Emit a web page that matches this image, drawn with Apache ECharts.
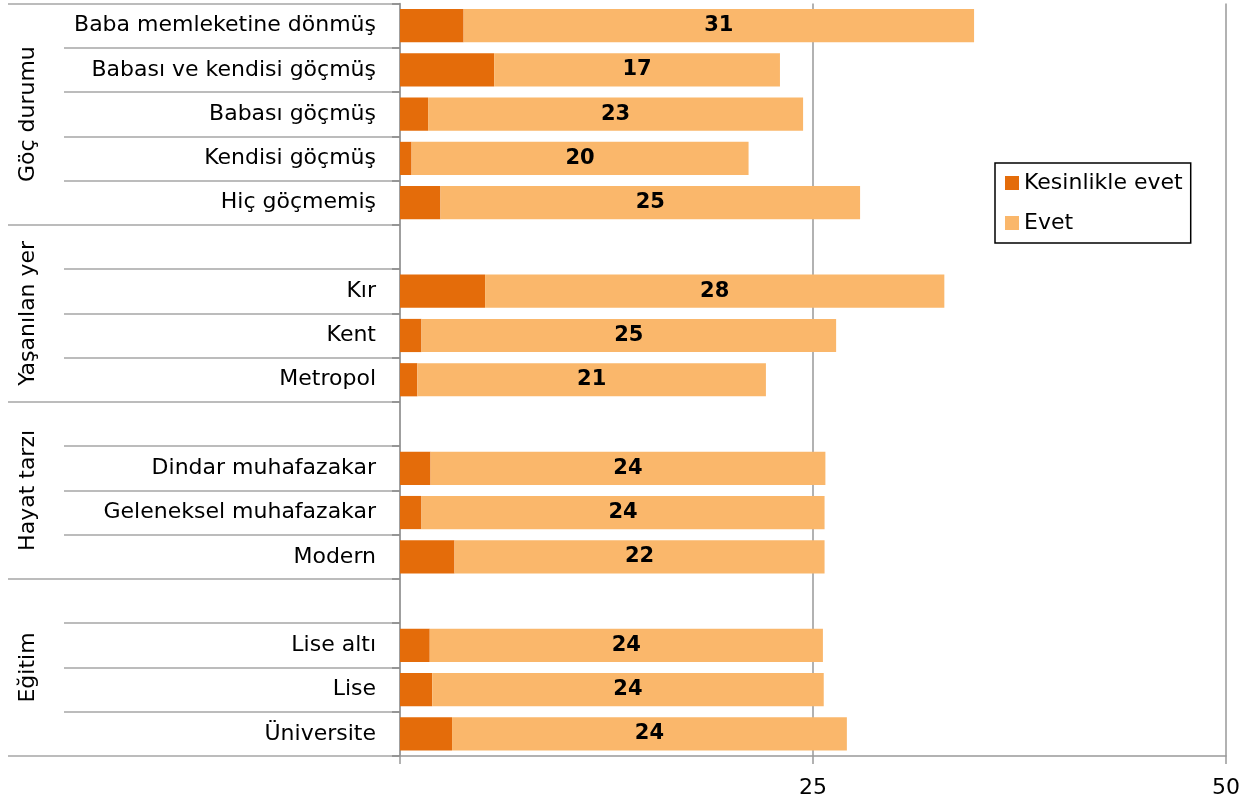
<!DOCTYPE html>
<html><head><meta charset="utf-8">
<script src="https://cdn.jsdelivr.net/npm/echarts@6/dist/echarts.min.js"></script>
<style>html,body{margin:0;padding:0;background:#fff}#c{width:1258px;height:806px}</style>
</head><body><div id="c"></div><script>
const categories = ['Baba memleketine dönmüş','Babası ve kendisi göçmüş','Babası göçmüş','Kendisi göçmüş','Hiç göçmemiş',' ','Kır','Kent','Metropol','  ','Dindar muhafazakar','Geleneksel muhafazakar','Modern','   ','Lise altı','Lise','Üniversite'];
const kesinlikleEvet = [3.85, 5.7, 1.7, 0.7, 2.45, null, 5.15, 1.3, 1.05, null, 1.85, 1.3, 3.3, null, 1.8, 1.95, 3.15];
const evet = [30.9, 17.3, 22.7, 20.4, 25.4, null, 27.8, 25.1, 21.1, null, 23.9, 24.4, 22.4, null, 23.8, 23.7, 23.9];
const seriesNames = ['Kesinlikle evet', 'Evet'];
const xMin = 0, xMax = 50, xStep = 25;
const groupNames = ['Göç durumu', 'Yaşanılan yer', 'Hayat tarzı', 'Eğitim'];
const groupRanges = [[0,4],[5,8],[9,12],[13,16]];
const groupBoundaries = [0, 5, 9, 13];

const FONT = 'DejaVu Sans';
const chart = echarts.init(document.getElementById('c'), null, {renderer: 'canvas'});
const baseY = {type: 'category', data: categories, inverse: true, position: 'left', boundaryGap: true, splitLine: {show: false}};
const option = {
  animation: false,
  backgroundColor: '#fff',
  textStyle: {fontFamily: FONT},
  grid: {left: 400, right: 32, top: 3.5, bottom: 50},
  legend: {
    orient: 'vertical', left: 995, top: 163, data: seriesNames, icon: 'rect',
    itemWidth: 14, itemHeight: 14, itemGap: 18, padding: [9, 8, 9, 10],
    borderColor: '#000', borderWidth: 1.5, backgroundColor: '#fff',
    textStyle: {fontSize: 22, color: '#000', fontFamily: FONT}
  },
  xAxis: {
    type: 'value', min: xMin, max: xMax, interval: xStep,
    axisLine: {show: true, lineStyle: {color: '#999', width: 1.5}},
    axisTick: {show: true, length: 8, lineStyle: {color: '#999', width: 1.5}},
    splitLine: {show: true, lineStyle: {color: '#999', width: 1.5}},
    axisLabel: {margin: 21, fontSize: 22, color: '#000', fontFamily: FONT, formatter: v => v === 0 ? '' : String(v)}
  },
  yAxis: [
    Object.assign({}, baseY, {
      axisLine: {show: true, lineStyle: {color: '#999', width: 1.5}},
      axisTick: {show: true, interval: 0, length: 336, lineStyle: {color: '#a6a6a6', width: 1.5}},
      axisLabel: {show: true, interval: 0, margin: 24, fontSize: 22, color: '#000', fontFamily: FONT}
    }),
    Object.assign({}, baseY, {
      axisLine: {show: false},
      axisTick: {show: true, length: 392, interval: (i) => groupBoundaries.includes(i), lineStyle: {color: '#a6a6a6', width: 1.5}},
      axisLabel: {show: false}
    }),
    Object.assign({}, baseY, {
      axisLine: {show: false},
      axisTick: {show: true, interval: 0, length: 8, lineStyle: {color: '#888', width: 1.5}},
      axisLabel: {show: false}
    })
  ],
  series: [
    {name: seriesNames[0], type: 'bar', stack: 'a', data: kesinlikleEvet, barCategoryGap: '25%',
     itemStyle: {color: '#E46C0A'}},
    {name: seriesNames[1], type: 'bar', stack: 'a', data: evet, barCategoryGap: '25%',
     itemStyle: {color: '#FAB76B'},
     label: {show: true, position: 'inside', color: '#000', fontWeight: 'bold', fontSize: 21, fontFamily: FONT,
       formatter: p => (p.value == null ? '' : String(Math.round(p.value)))}}
  ]
};
chart.setOption(option);
const graphics = groupNames.map((name, i) => {
  const [a, b] = groupRanges[i];
  const ya = chart.convertToPixel({yAxisIndex: 0}, a);
  const yb = chart.convertToPixel({yAxisIndex: 0}, b);
  return {type: 'text', x: 28, y: (ya + yb) / 2, rotation: Math.PI / 2,
    style: {text: name, fontSize: 22, fontFamily: FONT, fill: '#000',
      align: 'center', verticalAlign: 'middle', textAlign: 'center', textVerticalAlign: 'middle'}};
});
chart.setOption({graphic: graphics});
</script></body></html>
